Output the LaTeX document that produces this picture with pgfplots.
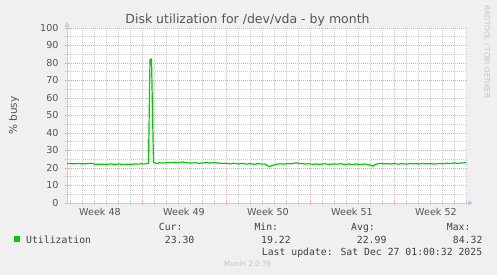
\documentclass[border=0pt]{standalone}
\usepackage{pgfplots}
\pgfplotsset{compat=1.18}
\usepackage{fontspec}
\setmainfont{DejaVu Sans}
\newfontfamily\mono{DejaVu Sans Mono}
\usetikzlibrary{arrows.meta}
\definecolor{bg}{HTML}{F0F0F0}
\definecolor{mgrid}{HTML}{E8AEAE}
\definecolor{mgridx}{HTML}{EEC4C4}
\definecolor{ngrid}{HTML}{D2D2D2}
\definecolor{axl}{HTML}{C8C8F0}
\definecolor{txt}{HTML}{555555}
\definecolor{dtxt}{HTML}{404040}
\definecolor{util}{HTML}{00CC00}
\definecolor{faint}{HTML}{C4C4C4}

\pgfplotstableread{
x y
0 22.5
4 22.5
8 22.4
10 22.6
12 22.5
16 22.4
20 22.5
24 22.7
26 22.4
28 22.2
32 22.1
36 22.2
40 22.1
44 22.3
46 22.1
48 22.1
52 22.3
56 22.0
60 22.2
64 22.1
68 22.3
72 22.2
74 22.5
76 22.3
79 22.4
81.5 22.8
83 82.0
84.5 82.3
86.5 23.0
88 22.9
90 22.5
92 23.0
96 22.8
100 23.0
104 23.1
106 22.9
108 23.3
112 23.0
114 23.3
116 23.5
118 23.0
120 23.0
124 22.8
128 23.0
132 22.7
136 22.9
140 23.1
142 22.8
144 22.9
148 23.1
150 22.8
152 22.8
156 22.6
158 22.8
160 22.5
164 22.4
166 22.7
168 22.6
172 22.3
174 22.6
176 22.5
180 22.2
182 22.5
184 22.4
188 22.1
190 22.4
192 22.4
196 22.2
198 22.3
200 21.5
202 20.8
204 21.2
206 21.6
210 22.2
214 22.4
216 22.2
218 22.3
222 22.6
224 22.4
226 22.5
228 22.9
230 22.9
232 22.6
234 22.6
238 22.3
242 22.4
246 22.1
250 22.3
252 22.1
254 22.2
258 22.4
260 22.2
262 22.1
266 22.3
270 22.2
274 22.4
276 22.2
278 22.0
282 22.3
286 21.9
288 22.3
290 22.2
294 22.0
298 22.3
300 22.0
302 21.8
304 21.6
306 21.0
308 22.0
310 22.3
312 22.6
316 22.4
320 22.5
324 22.3
328 22.6
330 22.2
332 22.3
336 22.5
338 22.3
340 22.2
344 22.6
346 22.4
348 22.5
352 22.3
356 22.6
358 22.4
360 22.4
364 22.5
366 22.3
368 22.3
372 22.6
376 22.4
378 22.6
380 22.7
384 22.5
386 22.8
388 22.8
392 22.6
394 22.9
396 22.9
399 23.0
}\util

\begin{document}
\begin{tikzpicture}
\fill[bg] (0,0) rectangle (497bp,275bp);
\useasboundingbox (0,0) rectangle (497bp,275bp);
\begin{axis}[
  at={(67bp,72bp)}, anchor=south west,
  width=400bp, height=175bp, scale only axis,
  xmin=0, xmax=400, ymin=0, ymax=100,
  axis background/.style={fill=white},
  axis lines=left,
  x axis line style={draw=axl, line width=0.8bp, -{Triangle[length=5bp,width=5bp]}, shorten >=-6bp},
  y axis line style={draw=axl, line width=0.8bp, -{Triangle[length=5bp,width=5bp]}, shorten >=-6bp},
  xtick={75,159,243,327},
  xticklabels={},
  minor xtick={3,15,27,39,51,63,87,99,111,123,135,147,171,183,195,207,219,231,255,267,279,291,303,315,339,351,363,375,387,399},
  extra x ticks={33,117,201,285,369},
  extra x tick labels={Week 48,Week 49,Week 50,Week 51,Week 52},
  extra x tick style={grid=none, major tick length=0pt},
  ytick={0,10,...,100},
  minor y tick num=1,
  grid=both,
  major grid style={draw=mgrid, line width=0.7bp, dash pattern=on 1bp off 1bp},
  major x grid style={draw=mgridx, line width=0.7bp, dash pattern=on 1bp off 1bp},
  minor grid style={draw=ngrid, line width=0.7bp, dash pattern=on 1bp off 1bp},
  tick align=center,
  major tick length=4bp, minor tick length=4bp,
  major tick style={draw=mgrid, line width=0.7bp},
  minor tick style={draw=ngrid, line width=0.7bp},
  tick label style={font=\fontsize{9.6bp}{11bp}\selectfont, text=txt},
  xticklabel style={yshift=-2bp},
  yticklabel style={xshift=-3bp},
  /pgf/number format/assume math mode=true,
  clip=true,
]
\addplot[util, line width=1.2bp, line join=round] table[x=x,y=y] {\util};
\end{axis}
\node[text=txt, font=\fontsize{12.5bp}{14bp}\selectfont, anchor=base, inner sep=0] at (247.5bp,251.7bp) {Disk utilization for /dev/vda - by month};
\node[text=txt, font=\fontsize{10.5bp}{12bp}\selectfont, rotate=90, inner sep=0] at (14bp,159.5bp) {\% busy};
\node[text=faint, font=\fontsize{7.2bp}{8bp}\selectfont, rotate=-90, inner sep=0] at (487bp,223bp) {RRDTOOL / TOBI OETIKER};
\node[text=faint, font=\fontsize{7.2bp}{8bp}\selectfont, inner sep=0] at (247.7bp,11bp) {Munin 2.0.76};
\fill[util] (14bp,33bp) rectangle (20bp,39bp);
\begin{scope}[every node/.style={text=dtxt, font=\mono\fontsize{9.8bp}{11bp}\selectfont, inner sep=0, anchor=base west}]
\node at (26bp,32bp) {Utilization};
\node at (158.7bp,44bp) {Cur:};
\node at (164.7bp,32bp) {23.30};
\node at (254.3bp,44bp) {Min:};
\node at (261bp,32bp) {19.22};
\node at (351bp,44bp) {Avg:};
\node at (356.7bp,32bp) {22.99};
\node at (446.7bp,44bp) {Max:};
\node at (452.7bp,32bp) {84.32};
\node at (261.7bp,20bp) {Last update: Sat Dec 27 01:00:32 2025};
\end{scope}
\end{tikzpicture}
\end{document}
